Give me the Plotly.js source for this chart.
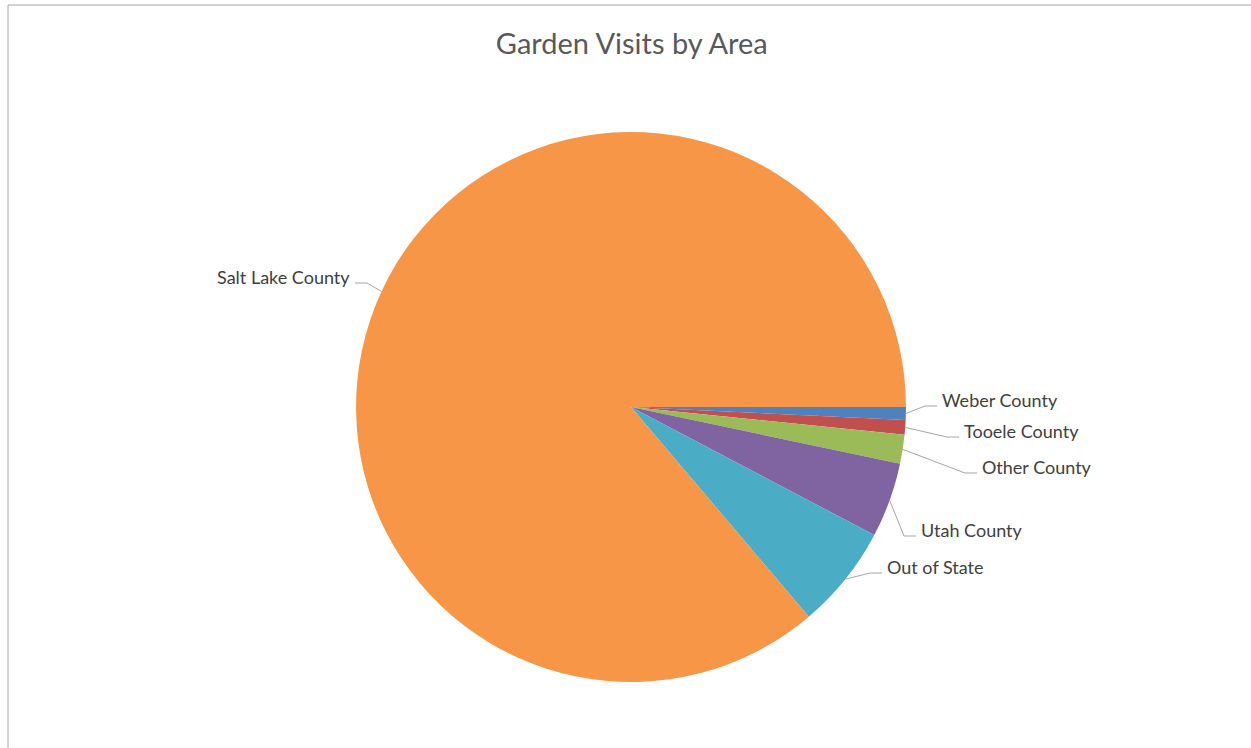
<!DOCTYPE html>
<html>
<head>
<meta charset="utf-8">
<script src="https://cdn.plot.ly/plotly-3.0.1.min.js"></script>
<style>html,body{margin:0;padding:0;background:#fff;}#chart{width:1251px;height:748px;}</style>
</head>
<body>
<div id="chart"></div>
<script>
const areas = ["Weber County", "Tooele County", "Other County", "Utah County", "Out of State", "Salt Lake County"];
const visitShare = [0.75, 0.86, 1.7, 4.4, 6.1, 86.2];
const sliceColors = ["#4F81BD", "#C0504D", "#9BBB59", "#8064A2", "#4BACC6", "#F79646"];

const W = 1251, H = 748;
const dom = {x: [0.2846, 0.7242], y: [0.0882, 0.8235]};

// label placement (pixels): text edge x, text centre y, side
const labelPlace = [
  {x: 940, y: 400, side: "right"},
  {x: 962, y: 431, side: "right"},
  {x: 980, y: 467, side: "right"},
  {x: 919, y: 530, side: "right"},
  {x: 885, y: 567, side: "right"},
  {x: 352, y: 277, side: "left"}
];

const trace = {
  type: "pie",
  labels: areas,
  values: visitShare,
  sort: false,
  direction: "clockwise",
  rotation: 90,
  marker: {colors: sliceColors, line: {width: 0}},
  textinfo: "none",
  hoverinfo: "label+percent",
  showlegend: false,
  domain: dom
};

// pie geometry in pixels (margins are zero)
const cx = (dom.x[0] + dom.x[1]) / 2 * W;
const cy = (1 - (dom.y[0] + dom.y[1]) / 2) * H;
const R = (dom.y[1] - dom.y[0]) * H / 2;
const total = visitShare.reduce((a, b) => a + b, 0);
const px = x => x / W, py = y => 1 - y / H;

const annotations = [];
const shapes = [
  {type: "line", xref: "paper", yref: "paper", x0: px(8), x1: 1.0, y0: py(5), y1: py(5), line: {color: "#a6a6a6", width: 1}},
  {type: "line", xref: "paper", yref: "paper", x0: px(8), x1: px(8), y0: 0, y1: py(5), line: {color: "#a6a6a6", width: 1}}
];
let cum = 0;
areas.forEach((name, i) => {
  const mid = (cum + visitShare[i] / 2) / total * 2 * Math.PI;
  cum += visitShare[i];
  const ax = cx + R * Math.cos(mid), ay = cy + R * Math.sin(mid);
  const p = labelPlace[i];
  const sgn = p.side === "right" ? 1 : -1;
  const ex = p.x - sgn * 3, ey = p.y + 6;
  const elx = ex - sgn * 12;
  shapes.push({type: "path", xref: "paper", yref: "paper",
    path: `M ${px(ax)} ${py(ay)} L ${px(elx)} ${py(ey)} L ${px(ex)} ${py(ey)}`,
    line: {color: "#a6a6a6", width: 1}});
  annotations.push({xref: "paper", yref: "paper", x: px(p.x), y: py(p.y),
    xanchor: p.side === "right" ? "left" : "right", yanchor: "middle",
    text: name, showarrow: false,
    font: {family: "Lato, 'Open Sans', sans-serif", size: 18, color: "#404040"}});
});

const layout = {
  width: W, height: H,
  margin: {l: 0, r: 0, t: 0, b: 0},
  paper_bgcolor: "#ffffff",
  title: {text: "Garden Visits by Area", x: 0.505, xanchor: "center", y: py(44), yanchor: "middle",
          font: {family: "Lato, 'Open Sans', sans-serif", size: 29, color: "#595959"}},
  shapes: shapes,
  annotations: annotations
};

Plotly.newPlot("chart", [trace], layout, {displayModeBar: false, staticPlot: true});
</script>
</body>
</html>
